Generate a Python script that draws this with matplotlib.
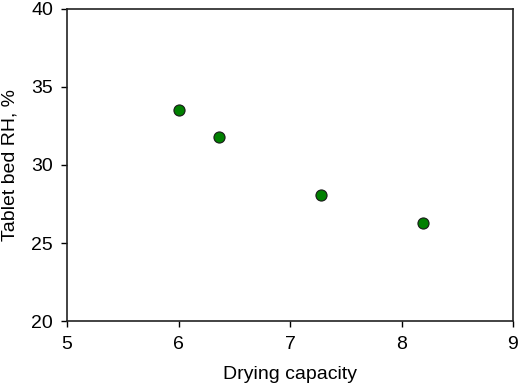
import matplotlib
matplotlib.use('Agg')
import matplotlib.pyplot as plt

# Drying capacity vs tablet bed RH
drying_capacity = [6.00, 6.36, 7.28, 8.19]
bed_rh = [33.5, 31.8, 28.1, 26.3]

plt.rcParams['font.family'] = ['Liberation Sans', 'DejaVu Sans']

fig = plt.figure(figsize=(5.2, 3.9), dpi=100)
ax = fig.add_axes([67 / 520, 1 - 321 / 390, (513 - 67) / 520, (321 - 9) / 390])

ax.plot(drying_capacity, bed_rh, 'o', markersize=8, color='#008000',
        markeredgecolor='#1a1a1a', markeredgewidth=0.8)

ax.set_xlim(5, 9)
ax.set_ylim(20, 40)
ax.set_xticks([5, 6, 7, 8, 9])
ax.set_yticks([20, 25, 30, 35, 40])
ax.tick_params(direction='out', length=4, width=1, labelsize=14)
ax.tick_params(axis='x', pad=7)
ax.tick_params(axis='y', pad=6)
for s in ax.spines.values():
    s.set_linewidth(1.2)
    s.set_color('#222222')

ax.set_xlabel('Drying capacity', fontsize=14, labelpad=9)
ax.set_ylabel('Tablet bed RH, %', fontsize=14, labelpad=9)

fig.savefig('out.png', dpi=100)
